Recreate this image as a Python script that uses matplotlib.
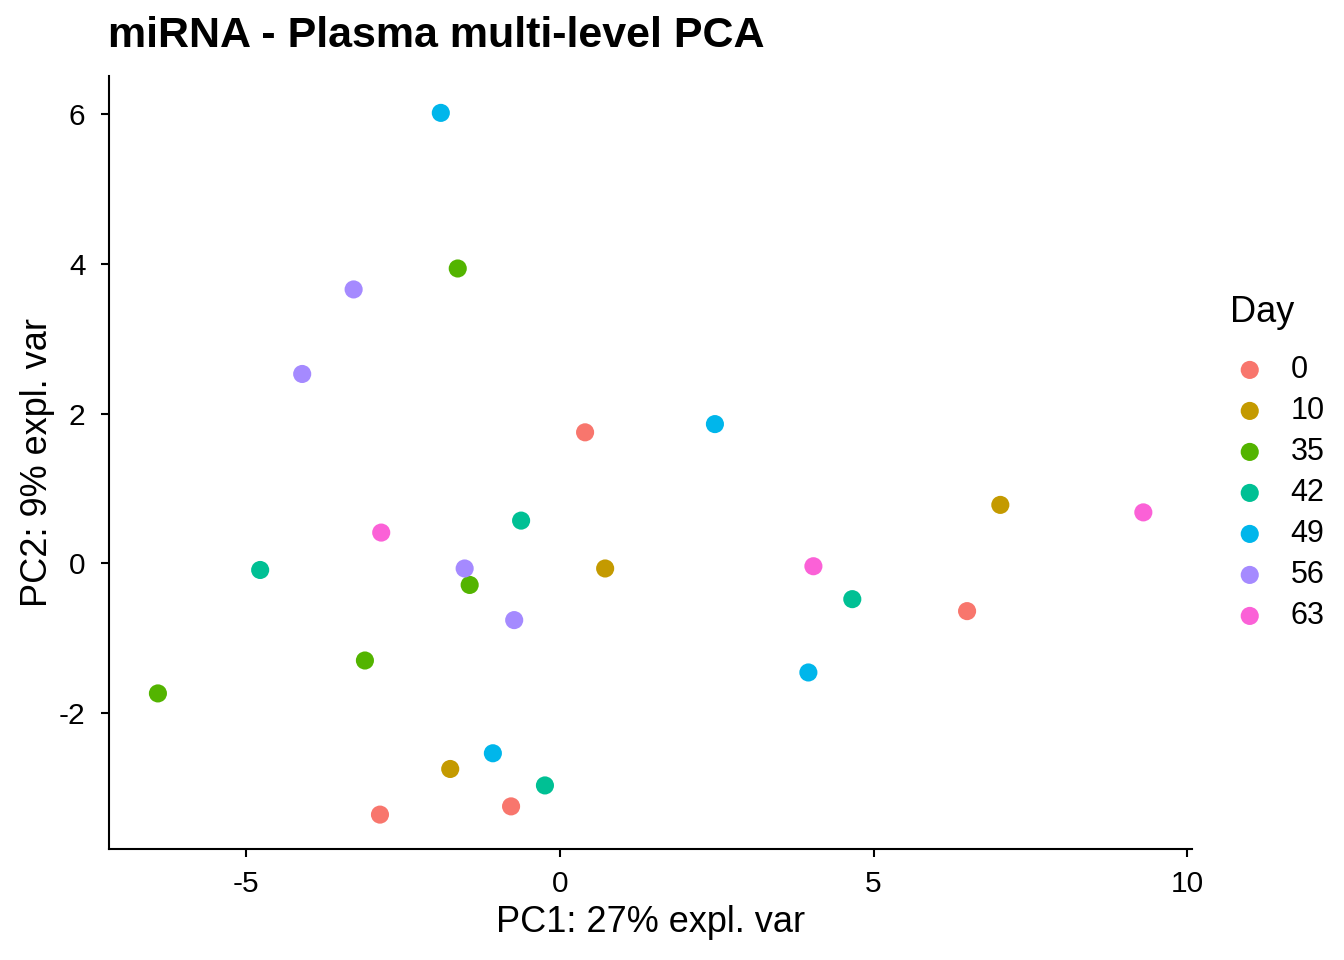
import matplotlib
matplotlib.use("Agg")
import matplotlib.pyplot as plt
from matplotlib.ticker import FuncFormatter

plt.rcParams["font.family"] = ["Liberation Sans", "DejaVu Sans"]

DAYS = ["0", "10", "35", "42", "49", "56", "63"]
COLORS = ["#F8766D", "#C49A00", "#53B400", "#00C094", "#00B6EB", "#A58AFF", "#FB61D7"]

PC1 = {
    "0":  [0.40, 6.49, -2.87, -0.78],
    "10": [7.02, 0.72, -1.75],
    "35": [-1.63, -1.44, -3.11, -6.41],
    "42": [-0.62, -4.78, 4.66, -0.24],
    "49": [-1.90, 2.47, 3.96, -1.07],
    "56": [-3.29, -4.11, -1.52, -0.73],
    "63": [-2.85, 4.04, 9.30],
}
PC2 = {
    "0":  [1.75, -0.64, -3.36, -3.25],
    "10": [0.78, -0.07, -2.75],
    "35": [3.94, -0.29, -1.30, -1.74],
    "42": [0.57, -0.09, -0.48, -2.97],
    "49": [6.02, 1.86, -1.46, -2.54],
    "56": [3.66, 2.53, -0.07, -0.76],
    "63": [0.41, -0.04, 0.68],
}

fig = plt.figure(figsize=(13.44, 9.6), dpi=100)
ax = fig.add_axes([0.0811, 0.1156, 0.806, 0.805])

for day, col in zip(DAYS, COLORS):
    ax.scatter(PC1[day], PC2[day], s=170, color=col, edgecolors="none", label=day, zorder=3)

ax.set_xlim(-7.19, 10.08)
ax.set_ylim(-3.82, 6.51)
ax.set_xticks([-5, 0, 5, 10])
ax.set_yticks([-2, 0, 2, 4, 6])
fmt = FuncFormatter(lambda v, p: f"{v:g}")
ax.xaxis.set_major_formatter(fmt)
ax.yaxis.set_major_formatter(fmt)
for s in ["top", "right"]:
    ax.spines[s].set_visible(False)
for s in ["left", "bottom"]:
    ax.spines[s].set_linewidth(1.5)
ax.tick_params(length=6, width=1.5, labelsize=21.5, color="black")
ax.tick_params(axis="x", pad=9)
ax.tick_params(axis="y", pad=11)

ax.set_xlabel("PC1: 27% expl. var", fontsize=26, labelpad=5)
ax.set_ylabel("PC2: 9% expl. var", fontsize=26, labelpad=3)
fig.text(0.0805, 0.963, "miRNA - Plasma multi-level PCA", fontsize=31, fontweight="bold",
         ha="left", va="center")

# legend: title drawn separately so the gap above the keys matches
fig.text(1230 / 1344, 1 - 313 / 960, "Day", fontsize=26, ha="left", va="center")
leg = fig.legend(loc="upper left", bbox_to_anchor=(0.906, 0.643),
                 frameon=False, fontsize=22, markerscale=1.0, handlelength=1.3,
                 handletextpad=0.69, labelspacing=0.36, borderaxespad=0)

fig.savefig("out.png", dpi=100, facecolor="white")
